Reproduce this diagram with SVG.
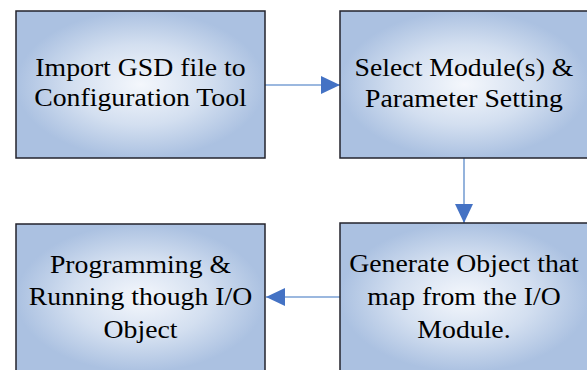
<svg xmlns="http://www.w3.org/2000/svg" width="587" height="370" viewBox="0 0 587 370">
  <defs>
    <radialGradient id="g" cx="0.5" cy="0.5" r="0.5">
      <stop offset="0" stop-color="#f4f7fc"/>
      <stop offset="0.55" stop-color="#d3dff0"/>
      <stop offset="1" stop-color="#abc1e1"/>
    </radialGradient>
    <marker id="ah" markerUnits="userSpaceOnUse" markerWidth="19" markerHeight="18" refX="19" refY="9" orient="auto">
      <path d="M0,0 L19,9 L0,18 z" fill="#4472c4"/>
    </marker>
    <style>
      .box { fill: url(#g); stroke: #23232d; stroke-width: 1.5; }
      .t { font-family: "Liberation Serif", "Times New Roman", serif; font-size: 25px; fill: #000; text-anchor: middle; }
      .c { stroke: #7aa0d4; stroke-width: 1.6; fill: none; marker-end: url(#ah); }
    </style>
  </defs>
  <rect width="587" height="370" fill="#fff"/>
  <g id="connectors">
    <line class="c" x1="265" y1="85" x2="340" y2="85"/>
    <line class="c" x1="464" y1="158" x2="464" y2="223"/>
    <line class="c" x1="340" y1="297" x2="266" y2="297"/>
  </g>
  <g id="node1">
    <rect class="box" x="16" y="11" width="249" height="147"/>
    <g transform="translate(140.5,0) scale(1.11,1)">
      <text class="t" x="0" y="76">Import GSD file to</text>
      <text class="t" x="0" y="106">Configuration Tool</text>
    </g>
  </g>
  <g id="node2">
    <rect class="box" x="340" y="11" width="249" height="147"/>
    <g transform="translate(464,0) scale(1.11,1)">
      <text class="t" x="0" y="76">Select Module(s) &amp;</text>
      <text class="t" x="0" y="107">Parameter Setting</text>
    </g>
  </g>
  <g id="node3">
    <rect class="box" x="16" y="224" width="249" height="148"/>
    <g transform="translate(140.5,0) scale(1.11,1)">
      <text class="t" x="0" y="273">Programming &amp;</text>
      <text class="t" x="0" y="305.5">Running though I/O</text>
      <text class="t" x="0" y="338">Object</text>
    </g>
  </g>
  <g id="node4">
    <rect class="box" x="340" y="223" width="249" height="149"/>
    <g transform="translate(464,0) scale(1.11,1)">
      <text class="t" x="0" y="272">Generate Object that</text>
      <text class="t" x="0" y="305">map from the I/O</text>
      <text class="t" x="0" y="338">Module.</text>
    </g>
  </g>
</svg>
